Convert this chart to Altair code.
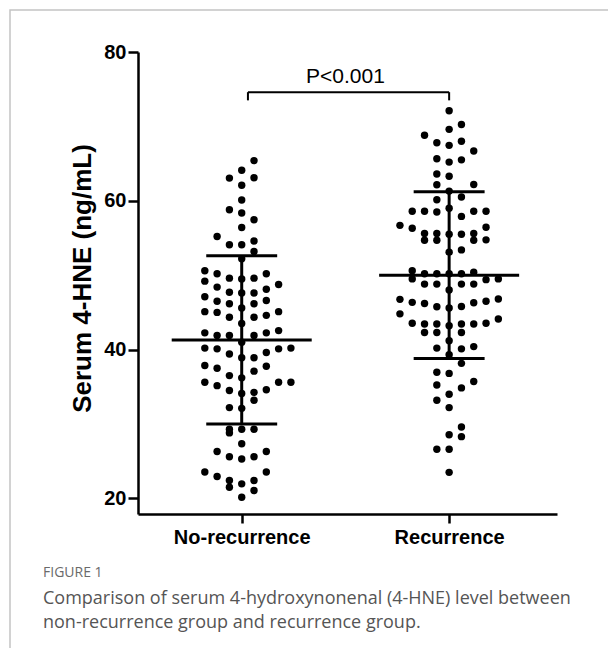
import altair as alt
import pandas as pd

groups = ["No-recurrence", "Recurrence"]

# values (ng/mL) with their horizontal slot in the swarm
nr_values = [65.4, 64.1, 63.05, 63.1, 62.1, 60.1, 58.8, 58.35, 57.45, 56.4, 55.2, 54.1, 54.1, 54.6, 53.2,
             52.2,
             50.6, 50.2, 49.6, 49.5, 49.6, 50.2,
             49.2, 48.4, 47.7, 47.6, 47.6, 48.1, 48.75,
             47.1, 46.5, 46.15, 45.6, 46.15, 46.6,
             45.1, 45.0, 44.35, 44.35, 44.6, 45.1,
             43.5,
             42.25, 41.9, 41.9, 41.9, 42.25, 42.55,
             41.0,
             40.2, 40.1, 39.4, 38.9, 38.9, 39.6, 40.1, 40.2,
             37.85, 37.5, 36.5, 36.2, 37.1, 37.75,
             35.6, 35.15, 34.5, 34.1, 34.25, 33.2, 34.6, 35.6, 35.6,
             32.2, 32.1,
             29.3, 28.8, 29.3, 29.3,
             27.35,
             26.3, 25.6, 25.3, 25.6, 26.3,
             23.55, 22.95, 22.4, 21.5, 21.95, 22.4, 21.05, 23.55,
             20.15]
nr_slots = [1, 0, -1, 1, 0, 0, -1, 0, 1, 0, -2, -1, 0, 1, 1,
            0,
            -3, -2, -1, 0, 1, 2,
            -3, -2, -1, 0, 1, 2, 3,
            -3, -2, -1, 0, 1, 2,
            -3, -2, -1, 1, 2, 3,
            0,
            -3, -2, -1, 1, 2, 3,
            0,
            -3, -2, -1, 0, 1, 2, 3, 4,
            -3, -2, -1, 0, 1, 2,
            -3, -2, -1, 0, 1, 1, 2, 3, 4,
            -1, 0,
            -1, -1, 0, 1,
            0,
            -2, -1, 0, 1, 2,
            -3, -2, -1, -1, 0, 1, 1, 2,
            0]

r_values = [72.1, 70.25, 69.6, 68.8, 67.8, 68.0, 67.45, 66.7, 65.65, 65.5, 65.2, 63.6, 63.3, 62.15, 62.2,
            61.3, 60.15, 60.5,
            58.6, 58.6, 58.5, 59.0, 57.9, 58.6, 58.6,
            56.7, 56.3, 55.6, 54.7, 55.6, 54.7, 55.5, 55.5, 55.6, 54.7, 56.45, 54.75,
            53.1, 53.4,
            50.6, 50.2, 50.2, 50.2, 50.2, 50.4,
            49.5, 48.8, 48.8, 48.8, 48.8, 49.4, 49.5,
            48.0,
            46.75, 46.35, 46.2, 45.75, 45.6, 45.8, 46.3, 46.5, 46.8,
            44.8, 43.55, 43.45, 42.3, 43.45, 42.3, 43.2, 43.45, 42.3, 43.45, 43.55, 44.1,
            41.2,
            40.2, 40.1, 40.4,
            39.3, 38.15,
            36.95, 36.8,
            35.25, 34.85, 35.7,
            34.0, 33.2, 32.2,
            29.6, 28.55, 28.3,
            26.6, 26.6,
            23.5]
r_slots = [0, 1, 0, -2, -1, 1, 0, 2, -1, 1, 0, -1, 0, -1, 2,
           0, -1, 1,
           -3, -2, -1, 0, 1, 2, 3,
           -4, -3, -2, -2, -1, -1, 0, 1, 2, 2, 3, 3,
           0, 1,
           -3, -2, -1, 0, 1, 2,
           -3, -2, -1, 1, 2, 3, 4,
           0,
           -4, -3, -2, -1, 0, 1, 2, 3, 4,
           -4, -3, -2, -2, -1, -1, 0, 1, 1, 2, 3, 4,
           0,
           -1, 1, 2,
           0, 1,
           -1, 0,
           -1, 1, 2,
           0, -1, 0,
           1, 0, 1,
           -1, 0,
           0]

means = [41.3, 50.0]
sds = [11.3, 11.2]
y_ticks = [20, 40, 60, 80]
p_label = "P<0.001"
bracket_ends = [0.03, 1.0]
bracket_top = 74.6
bracket_drop = 73.5
y_title = "Serum 4-HNE (ng/mL)"
fig_label = "FIGURE 1"
caption = ["Comparison of serum 4-hydroxynonenal (4-HNE) level between",
           "non-recurrence group and recurrence group."]

assert len(nr_values) == len(nr_slots) and len(r_values) == len(r_slots)

SLOT = 0.0593
MEAN_HALF = 0.3375
CAP_HALF = 0.171

rows = []
for gi, (vals, slots) in enumerate([(nr_values, nr_slots), (r_values, r_slots)]):
    for v, s in zip(vals, slots):
        rows.append({"group": groups[gi], "xpos": gi + s * SLOT, "value": v})
dots = pd.DataFrame(rows)

stats = pd.DataFrame({"group": groups, "gx": [0.0, 1.0], "mean": means, "sd": sds})
stats["lo"] = stats["mean"] - stats["sd"]
stats["hi"] = stats["mean"] + stats["sd"]
stats["m1"] = stats["gx"] - MEAN_HALF
stats["m2"] = stats["gx"] + MEAN_HALF
stats["c1"] = stats["gx"] - CAP_HALF
stats["c2"] = stats["gx"] + CAP_HALF

bracket = pd.DataFrame({"x1": [bracket_ends[0]], "x2": [bracket_ends[1]],
                        "top": [bracket_top], "drop": [bracket_drop],
                        "tx": [0.5], "ty": [76.6], "label": [p_label]})

FONT = "Liberation Sans"
xscale = alt.Scale(domain=[-0.5, 1.52], nice=False, zero=False)
yscale = alt.Scale(domain=[17.9, 80], nice=False, zero=False)

label_expr = f"datum.value == 0 ? '{groups[0]}' : '{groups[1]}'"
xaxis = alt.Axis(values=[0, 1], labelExpr=label_expr, title=None, grid=False,
                 domainColor="black", domainWidth=2.5, tickColor="black", tickWidth=2.5,
                 tickSize=9, labelFont=FONT, labelFontWeight="bold", labelFontSize=20,
                 labelColor="black", labelPadding=4)
yaxis = alt.Axis(values=y_ticks, title=y_title, grid=False, domainColor="black",
                 domainWidth=2.5, tickColor="black", tickWidth=2.5, tickSize=10,
                 labelFont=FONT, labelFontWeight="bold", labelFontSize=20, labelColor="black",
                 labelPadding=2, titleFont=FONT, titleFontWeight="bold", titleFontSize=26,
                 titleColor="black", titlePadding=8, titleY=226)

card = alt.Chart(pd.DataFrame({"k": [0]})).mark_rect(
    fillOpacity=0, stroke="#c4c4c4", strokeWidth=1.5
).encode(x=alt.value(-128), x2=alt.value(800), y=alt.value(-42), y2=alt.value(900))

pts = alt.Chart(dots).mark_circle(size=55, color="black", opacity=1).encode(
    x=alt.X("xpos:Q", scale=xscale, axis=xaxis),
    y=alt.Y("value:Q", scale=yscale, axis=yaxis),
)

base = alt.Chart(stats)
mean_line = base.mark_rule(color="black", strokeWidth=3).encode(
    x="m1:Q", x2="m2:Q", y="mean:Q")
cap_hi = base.mark_rule(color="black", strokeWidth=3).encode(
    x="c1:Q", x2="c2:Q", y="hi:Q")
cap_lo = base.mark_rule(color="black", strokeWidth=3).encode(
    x="c1:Q", x2="c2:Q", y="lo:Q")
vbar = base.mark_rule(color="black", strokeWidth=3).encode(
    x="gx:Q", y="lo:Q", y2="hi:Q")

bb = alt.Chart(bracket)
b_h = bb.mark_rule(color="black", strokeWidth=2).encode(x="x1:Q", x2="x2:Q", y="top:Q")
b_l = bb.mark_rule(color="black", strokeWidth=2).encode(x="x1:Q", y="top:Q", y2="drop:Q")
b_r = bb.mark_rule(color="black", strokeWidth=2).encode(x="x2:Q", y="top:Q", y2="drop:Q")
b_t = bb.mark_text(font=FONT, fontSize=21, color="black", baseline="middle", align="center").encode(
    x="tx:Q", y="ty:Q", text="label:N")

cap_df = pd.DataFrame({"fig": [fig_label], "l1": [caption[0]], "l2": [caption[1]]})
capc = alt.Chart(cap_df)
t_fig = capc.mark_text(font="Open Sans", fontSize=14, color="#6a6a6a", align="left",
                       baseline="middle").encode(x=alt.value(-95), y=alt.value(521), text="fig:N")
t_l1 = capc.mark_text(font="Open Sans", fontSize=18, color="#555555", align="left",
                      baseline="middle").encode(x=alt.value(-95), y=alt.value(547), text="l1:N")
t_l2 = capc.mark_text(font="Open Sans", fontSize=18, color="#555555", align="left",
                      baseline="middle").encode(x=alt.value(-95), y=alt.value(571), text="l2:N")

chart = alt.layer(card, pts, mean_line, cap_hi, cap_lo, vbar, b_h, b_l, b_r, b_t,
                  t_fig, t_l1, t_l2).properties(
    width=419, height=462,
    autosize=alt.AutoSizeParams(type="none"),
    padding={"left": 130, "top": 44, "right": 51, "bottom": 134},
    background="white",
).configure_view(stroke=None)

chart.save("out.html", embed_options={"renderer": "svg", "actions": False})
